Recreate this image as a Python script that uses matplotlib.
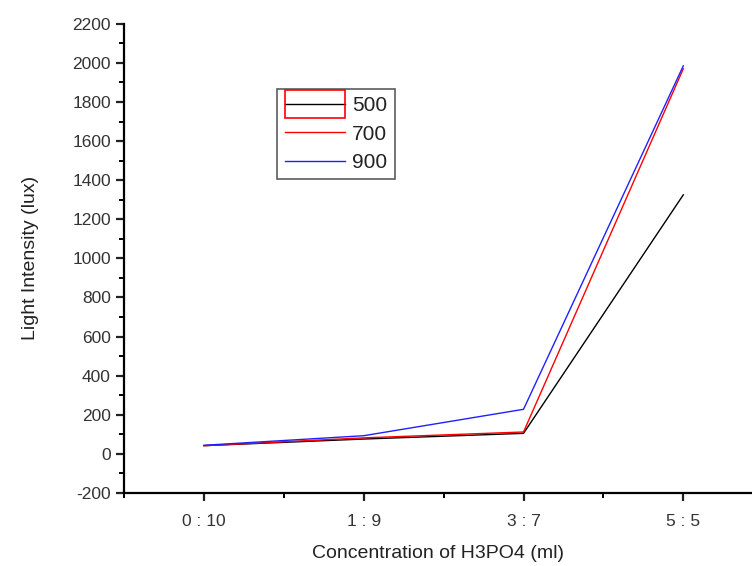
import matplotlib
matplotlib.use("Agg")
import matplotlib.pyplot as plt
from matplotlib.legend_handler import HandlerLine2D
from matplotlib.patches import Rectangle
from matplotlib.ticker import MultipleLocator

plt.rcParams['font.family'] = ['Liberation Sans', 'DejaVu Sans']
plt.rcParams['axes.unicode_minus'] = False

categories = ["0 : 10", "1 : 9", "3 : 7", "5 : 5"]
series_names = ["500", "700", "900"]
values_500 = [42, 76, 105, 1325]
values_700 = [42, 82, 112, 1970]
values_900 = [44, 93, 228, 1985]
colors = ["#000000", "#ff0000", "#2020ff"]


class BoxedHandler(HandlerLine2D):
    # legend entry with a red frame around the sample (as in the original)
    def create_artists(self, legend, orig_handle, xdescent, ydescent,
                       width, height, fontsize, trans):
        artists = super().create_artists(legend, orig_handle, xdescent, ydescent,
                                         width, height, fontsize, trans)
        rect = Rectangle((-xdescent, -ydescent - height * 0.45), width, height * 1.9,
                         fill=False, edgecolor="red", linewidth=1.2, transform=trans)
        return list(artists) + [rect]


def main():
    fig = plt.figure(figsize=(7.52, 5.66), dpi=100)
    ax = fig.add_axes([0.165, 0.129, 0.835, 0.829])

    x = list(range(1, len(categories) + 1))
    lines = []
    for vals, name, c in zip([values_500, values_700, values_900], series_names, colors):
        ln, = ax.plot(x, vals, color=c, linewidth=1.0, label=name)
        lines.append(ln)

    ax.set_xlim(0.5, 4.43)
    ax.set_ylim(-200, 2200)
    ax.set_xticks(x)
    ax.set_xticklabels(categories)
    ax.xaxis.set_minor_locator(MultipleLocator(0.5))
    ax.yaxis.set_major_locator(MultipleLocator(200))
    ax.yaxis.set_minor_locator(MultipleLocator(100))

    ax.spines["top"].set_visible(False)
    ax.spines["right"].set_visible(False)
    for s in ("left", "bottom"):
        ax.spines[s].set_linewidth(1.6)

    ax.tick_params(which="major", direction="out", length=6, width=1.6,
                   labelsize=12.5, colors="#222222", labelcolor="#333333")
    ax.tick_params(which="minor", direction="out", length=3.5, width=1.4)
    ax.tick_params(axis="x", pad=9)

    ax.set_xlabel("Concentration of H3PO4 (ml)", fontsize=14, color="#222222", labelpad=12)
    ax.set_ylabel("Light Intensity (lux)", fontsize=14, color="#222222", labelpad=24)

    leg = ax.legend(handles=lines, loc="upper left", bbox_to_anchor=(0.244, 0.861),
                    borderaxespad=0, fontsize=15, frameon=True, fancybox=False,
                    edgecolor="#333333", handlelength=2.9, handletextpad=0.35,
                    labelspacing=0.45, borderpad=0.35,
                    handler_map={lines[0]: BoxedHandler()})
    leg.get_frame().set_linewidth(1.2)
    for t in leg.get_texts():
        t.set_color("#222222")

    plt.savefig("out.png", dpi=100)
    plt.close(fig)


if __name__ == "__main__":
    main()
